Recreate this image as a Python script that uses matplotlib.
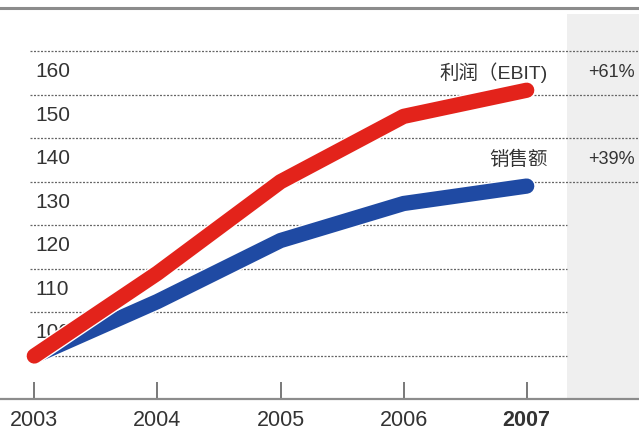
# coding=utf-8
import matplotlib
matplotlib.use('Agg')
import matplotlib.pyplot as plt
import matplotlib.patheffects as pe

plt.rcParams['font.family'] = ['Liberation Sans', 'Noto Sans CJK SC', 'DejaVu Sans']

# index values, 2003 = 100
years = [2003, 2004, 2005, 2006, 2007]
ebit = [100, 119, 140, 155, 161]
sales = [100, 112.5, 126.5, 135, 139]
grid_values = [100, 110, 120, 130, 140, 150, 160, 170]
label_values = [100, 110, 120, 130, 140, 150, 160]
ebit_name = '利润（EBIT)'
sales_name = '销售额'

red = '#e3231b'
blue = '#1f4aa3'
text_color = '#333333'

fig = plt.figure(figsize=(6.39, 4.30), dpi=100)
ax = fig.add_axes([0, 31 / 430, 1, 391 / 430])

px_x = 123.1  # pixels per year
px_y = 4.357  # pixels per index point
x0 = 2003 - 34.3 / px_x
ax.set_xlim(x0, x0 + 639 / px_x)
y0 = 100 - 43 / px_y
ax.set_ylim(y0, y0 + 391 / px_y)

# shaded column on the right
band_x = x0 + 567 / px_x
ax.axvspan(band_x, x0 + 639 / px_x, ymin=0, ymax=(391 - 6) / 391,
           color='#efefef', zorder=0, lw=0)

# dotted grid, upper lines run through the shaded column
grid_left = x0 + 30 / px_x
for v in grid_values:
    right = x0 + 639 / px_x if v >= 140 else band_x
    ax.hlines(v, grid_left, right, colors='#666666', linewidth=0.9,
              linestyles=(0, (1.6, 1.2)), zorder=1)

for v in label_values:
    ax.text(x0 + 35 / px_x, v + 5.3, str(v), fontsize=15, color=text_color,
            va='center', ha='left', zorder=2)

outline = [pe.Stroke(linewidth=13, foreground='white'), pe.Normal()]
ax.plot(years, sales, color=blue, linewidth=11, solid_capstyle='round',
        solid_joinstyle='round', zorder=3, path_effects=outline)
ax.plot(years, ebit, color=red, linewidth=11, solid_capstyle='round',
        solid_joinstyle='round', zorder=4, path_effects=outline)

# series names and growth
name_x = 2007 + (548 - 526.7) / px_x
pct_x = x0 + 635 / px_x
ax.text(name_x, 165, ebit_name, fontsize=14, color=text_color, ha='right', va='center')
ax.text(name_x, 145, sales_name, fontsize=14, color=text_color, ha='right', va='center')
ax.text(pct_x, 165, '+%d%%' % round(ebit[-1] / ebit[0] * 100 - 100), fontsize=13,
        color=text_color, ha='right', va='center')
ax.text(pct_x, 145, '+%d%%' % round(sales[-1] / sales[0] * 100 - 100), fontsize=13,
        color=text_color, ha='right', va='center')

# axis styling
for side in ['left', 'right']:
    ax.spines[side].set_visible(False)
ax.spines['bottom'].set_color('#8c8c8c')
ax.spines['bottom'].set_linewidth(1.6)
ax.spines['top'].set_color('#8c8c8c')
ax.spines['top'].set_linewidth(2.2)
ax.set_yticks([])
ax.set_xticks(years)
ax.set_xticklabels([str(y) for y in years])
ax.tick_params(axis='x', direction='in', length=12, width=1.1, color='#555555',
               pad=8, labelsize=15.5, labelcolor=text_color)
ax.get_xticklabels()[-1].set_fontweight('bold')

fig.savefig('out.png', dpi=100)
